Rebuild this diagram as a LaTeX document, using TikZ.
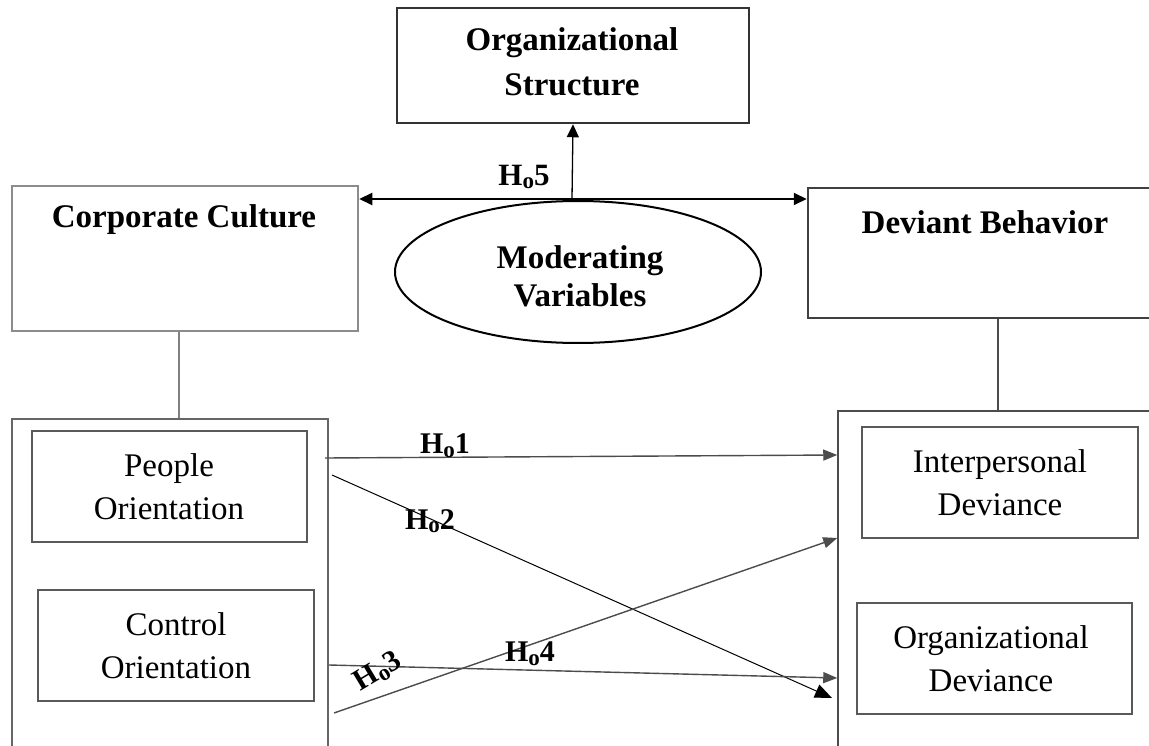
\documentclass[tikz,border=0pt]{standalone}
\usepackage{fontspec}
\setmainfont{Liberation Serif}
\usetikzlibrary{arrows.meta,shapes.geometric,calc}
% hypothesis tag: H with a small lowered o, then the number
\newcommand\hyptag[1]{H\raisebox{-0.12em}{\fontsize{23}{23}\selectfont o}#1}

\begin{document}
\begin{tikzpicture}[x=1pt,y=-1pt,
  box/.style={draw, rectangle, inner sep=0pt},
  headtext/.style={font=\fontsize{33}{45}\selectfont\bfseries, align=center, inner sep=0pt},
  itemtext/.style={font=\fontsize{33}{43}\selectfont, align=center, inner sep=0pt},
  hyptext/.style={font=\fontsize{30}{30}\selectfont\bfseries, inner sep=0pt},
  link/.style={draw=black!70, line width=1.4pt},
  tip/.style={-{Triangle[length=14pt,width=11pt]}},
]
\useasboundingbox (0,0) rectangle (1149,746);
\clip (0,0) rectangle (1149,746);
\fill[white] (0,0) rectangle (1149,746);

% top-level constructs
\node[box, draw=black!80, line width=2.5pt, minimum width=352pt, minimum height=115pt] (os) at (573,65.5) {};
\node[headtext] (ostext) at (572,62) {Organizational\\Structure};

\node[box, draw=black!45, line width=2.5pt, minimum width=346pt, minimum height=145pt] (cc) at (185,258.5) {};
\node[headtext] (cctext) at (184,220) {Corporate Culture};

\node[box, draw=black!75, line width=2.5pt, minimum width=354pt, minimum height=130pt] (db) at (985,253) {};
\node[headtext] (dbtext) at (985,222) {Deviant Behavior};

\node[draw, ellipse, line width=2pt, inner sep=0pt, minimum width=366pt, minimum height=142pt] (mv) at (578,272) {};
\node[headtext, font=\fontsize{33}{38}\selectfont\bfseries] (mvtext) at (580,276) {Moderating\\Variables};

% dimension groups
\node[box, draw=black!60, line width=1.8pt, minimum width=316pt, minimum height=341pt] (lo) at (170,589.5) {};
\node[box, draw=black!65, line width=1.8pt, minimum width=275pt, minimum height=111pt] (po) at (169.5,486.5) {};
\node[itemtext] (potext) at (169,487) {People\\Orientation};
\node[box, draw=black!65, line width=1.8pt, minimum width=276pt, minimum height=111pt] (co) at (176,645.5) {};
\node[itemtext] (cotext) at (176,646) {Control\\Orientation};

\node[box, draw=black!70, line width=1.5pt, minimum width=322pt, minimum height=349pt] (ro) at (999,585.5) {};
\node[box, draw=black!65, line width=1.8pt, minimum width=276pt, minimum height=111pt] (ip) at (1000,482.5) {};
\node[itemtext] (iptext) at (1000,483) {Interpersonal\\Deviance};
\node[box, draw=black!65, line width=1.8pt, minimum width=275pt, minimum height=111pt] (od) at (994.5,658.5) {};
\node[itemtext] (odtext) at (991,659) {Organizational\\Deviance};

% construct to dimension links
\draw[draw=black!50, line width=2pt] ([xshift=-6pt]cc.south) -- ([xshift=-6pt]cc.south |- lo.north);
\draw[draw=black!70, line width=1.6pt] ([xshift=13pt]db.south) -- ([xshift=13pt]db.south |- ro.north);

% moderation (Ho5)
\coordinate (hub) at (572,199);
\draw[line width=2pt, {Triangle[length=13pt,width=12pt]}-{Triangle[length=13pt,width=12pt]}] (hub -| cc.east) -- (hub -| db.west);
\draw[line width=1.3pt, -{Triangle[length=13pt,width=12pt]}] (hub) -- (os.south);
\node[hyptext, font=\fontsize{31}{31}\selectfont\bfseries] (h5) at (524,177) {\hyptag{5}};

% hypotheses Ho1 to Ho4
\coordinate (s1) at (325,458);
\coordinate (s2) at (332,475);
\coordinate (e2) at (832,698);
\coordinate (s3) at (334,713);
\coordinate (s4) at (329,665);
\draw[link, tip] (s1) -- (ro.west |- 0,455);
\draw[line width=1pt, -{Triangle[length=17pt,width=14pt]}] (s2) -- (e2);
\draw[link, tip] (s3) -- (ro.west |- 0,538);
\draw[link, tip] (s4) -- (ro.west |- 0,678);

\node[hyptext] (h1) at (445,446) {\hyptag{1}};
\node[hyptext] (h2) at (430,521) {\hyptag{2}};
\node[hyptext, rotate=31] (h3) at (378,672) {\hyptag{3}};
\node[hyptext] (h4) at (530,654) {\hyptag{4}};
\end{tikzpicture}
\end{document}
